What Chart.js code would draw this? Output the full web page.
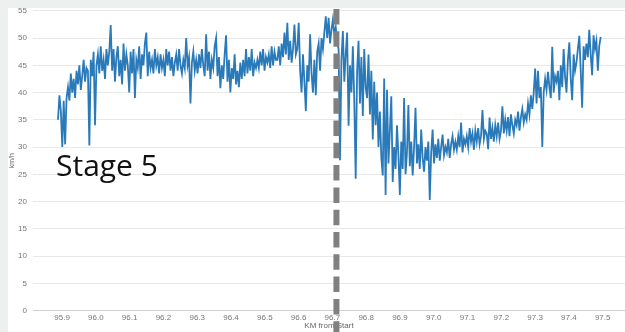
<!DOCTYPE html>
<html>
<head>
<meta charset="utf-8">
<script src="https://cdn.jsdelivr.net/npm/chart.js@4.4.1/dist/chart.umd.min.js"></script>
<style>
    html, body { margin: 0; padding: 0; background: #fff; }
    #wrap { position: relative; width: 625px; height: 332px; overflow: hidden; }
    #chart { position: absolute; left: 0; top: 0; }
    .band { position: absolute; background: #eef0f0; }
    #bandTop { left: 0; top: 0; width: 625px; height: 8px; }
    #bandLeft { left: 0; top: 0; width: 8px; height: 332px; }
    #stage { position: absolute; left: 56px; top: 150px; font: 30px/1 "Open Sans", sans-serif; color: #111; white-space: nowrap; }
</style>
</head>
<body>
<div id="wrap">
    <canvas id="chart" width="625" height="332"></canvas>
    <div class="band" id="bandTop"></div>
    <div class="band" id="bandLeft"></div>
    <div id="stage">Stage 5</div>
</div>
<script>
// ── Data ──────────────────────────────────────────────────────────────

const kmStart = 95.888;        // first sample
const kmEnd   = 97.494;        // last sample
const markerKm = 96.712;       // dashed stage marker
const tickLabels = [95.9, 96.0, 96.1, 96.2, 96.3, 96.4, 96.5, 96.6, 96.7, 96.8, 96.9, 97.0, 97.1, 97.2, 97.3, 97.4, 97.5];
const yTicks = [0, 5, 10, 15, 20, 25, 30, 35, 40, 45, 50, 55];

// speed in km/h, evenly spaced samples between kmStart and kmEnd
const speeds = [
    35, 39.5, 36.5, 30, 38.5, 30.5, 39,
    41, 38.5, 43.5, 40, 42.5, 39, 44,
    41.5, 45, 40.5, 43, 46, 42, 44.5,
    44, 30.3, 46, 43, 47.5, 34, 45,
    47, 43.5, 48.5, 44, 46, 42.5, 48,
    45, 47.5, 52.4, 44, 48, 42, 46.5,
    48.5, 43, 46, 41.5, 49, 44, 47,
    45, 40, 47.5, 43.5, 48, 39, 46,
    44.5, 48.5, 42.5, 47, 45, 49, 51,
    43, 47.5, 44.5, 46, 43.5, 48, 45,
    46.5, 43.5, 47, 44.5, 46, 43, 48,
    45, 47.5, 44, 46.5, 43, 45.5, 47,
    44, 48, 45, 43.5, 46, 44.5, 50,
    45, 46.5, 38, 45.5, 47.5, 44, 46,
    43.5, 47, 44.5, 48, 45, 43, 50.7,
    44, 47.5, 42.5, 46, 44.5, 48.5, 50,
    43, 46.5, 40.8, 45, 42.5, 47, 50.5,
    42, 46, 40, 44.5, 42.5, 47, 41.5,
    44, 41, 45.5, 42.5, 46, 43, 48,
    43.5, 46.5, 44, 48, 43, 45.5, 44.5,
    46, 44.5, 47.5, 45, 48, 44, 46.5,
    45.5, 47, 44.5, 48.5, 45, 47.5, 46,
    46, 48.5, 45, 49, 46.5, 51, 47,
    52.8, 46, 49.5, 45.5, 48, 52.5, 47,
    48, 52.8, 44, 40, 47, 42, 36.6,
    45, 42, 50.7, 43.5, 40, 46, 39.5,
    47.5, 49, 44, 50, 48, 51, 54,
    50, 53.7, 49, 51.5, 53.4, 50.5, 52,
    49, 48, 27.6, 46, 51.3, 42, 47,
    51, 33.9, 45, 40, 48.5, 38.5, 24.2,
    44, 49.5, 38, 46.5, 35.7, 48, 41,
    39, 47, 36, 44, 31.4, 42, 34,
    40, 30, 36.5, 28, 24.8, 42.6, 21.2,
    40.5, 27, 33, 39.3, 23.6, 30, 26,
    34, 28.5, 21.2, 31, 26, 39, 25,
    29, 37.7, 26.5, 31, 24.8, 30, 37.2,
    27, 30.5, 26, 33.2, 28, 25.5, 30,
    27.5, 31, 20.3, 29, 33.2, 27, 30.5,
    28, 31.5, 27.5, 30, 32.3, 28.5, 30,
    29, 31.5, 28, 30.5, 32, 29.5, 31,
    29.5, 32, 30, 34.5, 29, 31.5, 30.5,
    32, 30, 33.5, 31, 32.5, 29.5, 33,
    31, 33.5, 30.5, 32, 36.8, 31.5, 33,
    32.5, 29.6, 35.4, 31.5, 33.5, 31, 34,
    32, 34.5, 31.5, 33, 37.5, 32.5, 35,
    33, 35.5, 32, 36, 34, 32.5, 35,
    34, 36.5, 33, 35.5, 37, 34.5, 36,
    35, 38, 36, 39.5, 37, 40, 44.4,
    38, 44, 39, 41, 30, 40, 42.5,
    40.5, 43.8, 41, 39, 48.4, 40, 43,
    42, 44, 38.6, 45, 41, 48, 43,
    40, 46, 49.2, 42.5, 38.6, 47, 44,
    45.5, 48, 50.4, 44, 37.2, 48.5, 46,
    49, 46.5, 51.5, 47, 43.2, 50.5, 48,
    49.5, 44, 48.5, 50.2
];

const points = speeds.map((v, i) => ({
    x: kmStart + i * (kmEnd - kmStart) / (speeds.length - 1),
    y: v,
}));

// ── Dashed stage marker ───────────────────────────────────────────────

const stageMarker = {
    id: 'stageMarker',
    afterDraw(chart) {
        const ctx = chart.ctx;
        const x = chart.scales.x.getPixelForValue(markerKm);
        ctx.save();
        ctx.strokeStyle = '#808080';
        ctx.lineWidth = 6;
        ctx.setLineDash([15.5, 6.8]);
        ctx.beginPath();
        ctx.moveTo(x, 9);
        ctx.lineTo(x, chart.height);
        ctx.stroke();
        ctx.restore();
    }
};

// ── Chart ─────────────────────────────────────────────────────────────

const tickFont = { family: '"Liberation Sans", Arial, sans-serif', size: 8 };

new Chart(document.getElementById('chart'), {
    type: 'line',
    data: {
        datasets: [{
            data: points,
            borderColor: '#2a7ab9',
            borderWidth: 1.8,
            pointRadius: 0,
            tension: 0,
            fill: false,
        }],
    },
    options: {
        responsive: false,
        animation: false,
        layout: { padding: { top: 6, left: 0, right: 0, bottom: 0 } },
        plugins: { legend: { display: false }, tooltip: { enabled: false } },
        scales: {
            x: {
                type: 'linear',
                min: 95.814,
                max: 97.566,
                afterBuildTicks: scale => { scale.ticks = tickLabels.map(v => ({ value: v })); },
                afterFit: scale => { scale.height = 21.4; },
                grid: { display: false, drawTicks: false },
                border: { display: true, color: '#cfcfcf' },
                ticks: {
                    font: tickFont, color: '#777', padding: 2, maxRotation: 0, autoSkip: false,
                    callback: v => v.toFixed(1),
                },
                title: { display: true, text: 'KM from Start', font: tickFont, color: '#666', padding: { top: 0, bottom: 1.2 } },
            },
            y: {
                min: 0,
                max: 55,
                afterBuildTicks: scale => { scale.ticks = yTicks.map(v => ({ value: v })); },
                afterFit: scale => { scale.width = 33; },
                grid: { color: '#e9e9e9', lineWidth: 1, drawTicks: false },
                border: { display: false },
                ticks: { font: tickFont, color: '#777', padding: 6 },
                title: { display: true, text: 'km/h', font: { family: tickFont.family, size: 7 }, color: '#666', padding: { top: 8, bottom: 0 } },
            },
        },
    },
    plugins: [stageMarker],
});
</script>
</body>
</html>
